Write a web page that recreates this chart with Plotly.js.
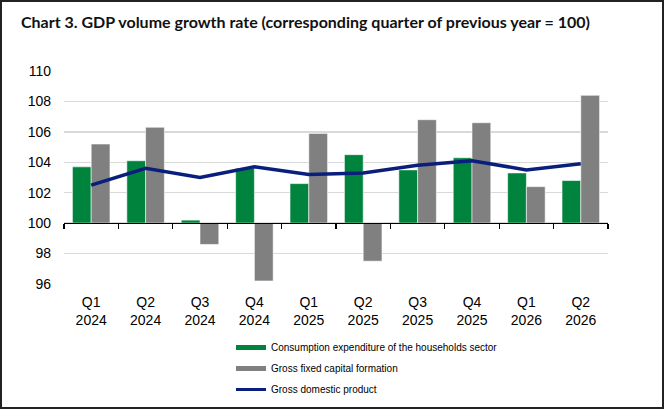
<!DOCTYPE html>
<html>
<head>
<meta charset="utf-8">
<script src="https://cdn.plot.ly/plotly-3.0.1.min.js"></script>
<style>
html,body{margin:0;padding:0;background:#fff;}
#wrap{position:relative;width:664px;height:409px;}
#chart{width:664px;height:409px;}
#frame{position:absolute;left:0;top:0;width:664px;height:409px;box-sizing:border-box;border:2px solid #222;pointer-events:none;}
</style>
</head>
<body>
<div id="wrap"><div id="chart"></div><div id="frame"></div></div>
<script>
// ---- data ----
const categories = ["Q1<br>2024","Q2<br>2024","Q3<br>2024","Q4<br>2024","Q1<br>2025","Q2<br>2025","Q3<br>2025","Q4<br>2025","Q1<br>2026","Q2<br>2026"];
const households = [103.7,104.1,100.2,103.6,102.6,104.5,103.5,104.3,103.3,102.8];
const capital    = [105.2,106.3,98.6,96.2,105.9,97.5,106.8,106.6,102.4,108.4];
const gdp        = [102.5,103.6,103.0,103.7,103.2,103.3,103.8,104.1,103.5,103.9];
const baseValue = 100;
const yTicks = [96,98,100,102,104,106,108,110];
const seriesNames = ["Consumption expenditure of the households sector","Gross fixed capital formation","Gross domestic product"];
const colors = ["#00843d","#808080","#0a1f7c"];

// ---- layout helpers (pixel -> paper) ----
const L = 64, R = 56, T = 71, B = 125, W = 664, H = 409;
const pw = W - L - R, ph = H - T - B;
const px = x => (x - L) / pw;
const py = y => (H - B - y) / ph;

const traces = [
  {type:'bar', x:categories, y:households.map(v=>v-baseValue), base:baseValue,
   name:seriesNames[0], marker:{color:colors[0], line:{color:'rgba(255,255,255,0.55)', width:1}},
   customdata:households, hovertemplate:'%{customdata}<extra></extra>'},
  {type:'bar', x:categories, y:capital.map(v=>v-baseValue), base:baseValue,
   name:seriesNames[1], marker:{color:colors[1], line:{color:'rgba(255,255,255,0.55)', width:1}},
   customdata:capital, hovertemplate:'%{customdata}<extra></extra>'},
  {type:'scatter', mode:'lines', x:categories, y:gdp, name:seriesNames[2],
   xaxis:'x2', line:{color:colors[2], width:3.5}}
];

const legendRows = [347.5, 368.5, 389.5];
const shapes = [
  {type:'rect', xref:'paper', yref:'paper', x0:px(236), x1:px(266), y0:py(legendRows[0]-2.5), y1:py(legendRows[0]+2.5), fillcolor:colors[0], line:{width:0}},
  {type:'rect', xref:'paper', yref:'paper', x0:px(236), x1:px(266), y0:py(legendRows[1]-2.5), y1:py(legendRows[1]+2.5), fillcolor:colors[1], line:{width:0}},
  {type:'line', xref:'paper', yref:'paper', x0:px(236), x1:px(266), y0:py(legendRows[2]), y1:py(legendRows[2]), line:{color:colors[2], width:3}}
];
const annotations = seriesNames.map((n,i)=>({
  text:n, xref:'paper', yref:'paper', x:px(269), y:py(legendRows[i]), xanchor:'left', yanchor:'middle',
  showarrow:false, font:{family:'Liberation Sans, Arial, sans-serif', size:10, color:'#000'}
}));

const layout = {
  width:W, height:H,
  margin:{l:L, r:R, t:T, b:B, pad:0},
  paper_bgcolor:'#fff', plot_bgcolor:'#fff',
  showlegend:false,
  barmode:'group', bargap:0.31, bargroupgap:0,
  title:{text:'<b>Chart 3. GDP volume growth rate (corresponding quarter of previous year = 100)</b>',
    font:{family:'Lato, sans-serif', size:16, color:'#111'},
    xref:'container', yref:'container', x:21/W, xanchor:'left', y:1-17/H, yanchor:'top'},
  font:{family:'Liberation Sans, Arial, sans-serif', size:14, color:'#000'},
  xaxis:{type:'category', range:[-0.5,9.5], showgrid:false, showline:false, ticks:'',
    tickfont:{size:14, color:'#000'}, ticklabelstandoff:8, fixedrange:true},
  xaxis2:{type:'category', overlaying:'x', anchor:'free', position:(baseValue-96)/14,
    range:[-0.5,9.5], showgrid:false, showline:true, linecolor:'#000', linewidth:1.3,
    ticks:'outside', tickson:'boundaries', ticklen:5, tickcolor:'#000', tickwidth:1.3,
    showticklabels:false, fixedrange:true},
  yaxis:{range:[96,110], tickvals:yTicks, showgrid:true, gridcolor:'#d9d9d9', gridwidth:1.5,
    zeroline:false, showline:false, ticks:'', tickfont:{size:14, color:'#000'},
    ticklabelstandoff:12, fixedrange:true},
  shapes:shapes,
  annotations:annotations
};

Plotly.newPlot('chart', traces, layout, {displayModeBar:false, staticPlot:true});
</script>
</body>
</html>
